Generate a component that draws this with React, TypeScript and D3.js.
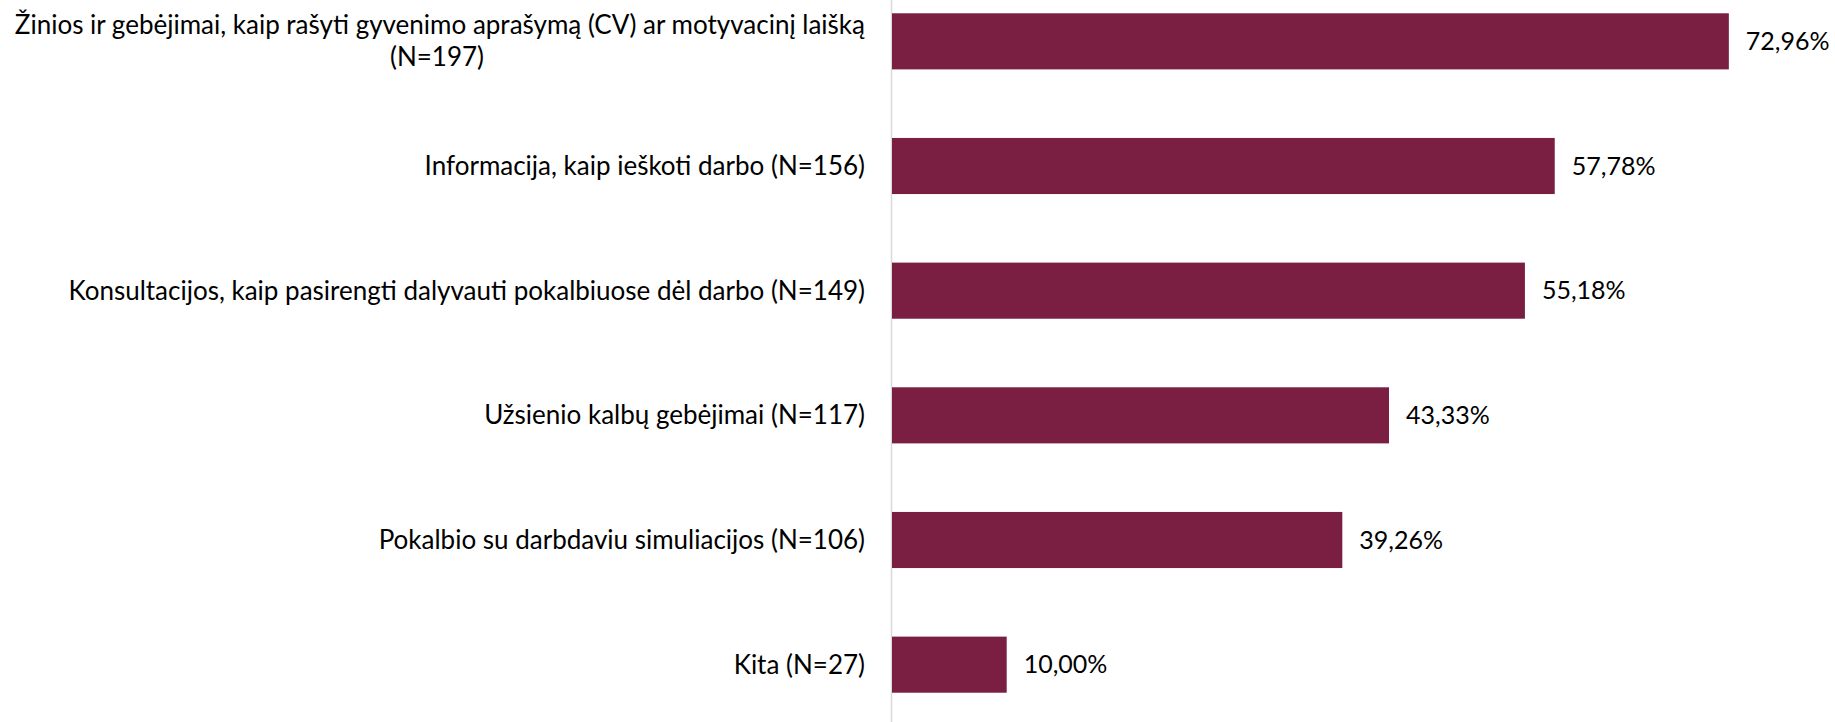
import React, { useEffect } from 'react';
import * as d3 from 'd3';

// category labels (first one wraps onto two lines, as in the source)
const categories = [
  'Žinios ir gebėjimai, kaip rašyti gyvenimo aprašymą (CV) ar motyvacinį laišką\n(N=197)',
  'Informacija, kaip ieškoti darbo (N=156)',
  'Konsultacijos, kaip pasirengti dalyvauti pokalbiuose dėl darbo (N=149)',
  'Užsienio kalbų gebėjimai (N=117)',
  'Pokalbio su darbdaviu simuliacijos (N=106)',
  'Kita (N=27)',
];
const shares = [72.96, 57.78, 55.18, 43.33, 39.26, 10.0];

const W = 1835;
const H = 722;
const BAR_COLOR = '#7a1f42';
const FONT = 'Lato, "Open Sans", sans-serif';

const fmt = (v: number) => d3.format('.2f')(v).replace('.', ',') + '%';

export default function App() {
  useEffect(() => {
    document.body.style.margin = '0';
  }, []);

  const axisX = 892;
  const x = d3.scaleLinear().domain([0, 80]).range([axisX, axisX + 80 * 11.47]);
  const y = d3.scaleBand<string>()
    .domain(categories)
    .range([-21, 727])
    .paddingInner(0.55)
    .paddingOuter(0.275);

  const labelX = 865;
  const labelSize = 26;
  const valueSize = 25;
  const lineH = 32;

  return (
    <svg width={W} height={H} viewBox={`0 0 ${W} ${H}`} style={{ display: 'block', background: '#fff' }}>
      {/* category axis line */}
      <line x1={axisX - 0.5} x2={axisX - 0.5} y1={0} y2={H} stroke="#d9d9d9" strokeWidth={1.5} />

      {categories.map((c, i) => {
        const v = shares[i];
        const yc = (y(c) ?? 0) + y.bandwidth() / 2;
        const lines = c.split('\n');
        const first = yc - ((lines.length - 1) * lineH) / 2;
        return (
          <g key={c}>
            <rect x={x(0)} y={y(c)} width={x(v) - x(0)} height={y.bandwidth()} fill={BAR_COLOR} />
            <text
              x={x(v) + 17}
              y={yc}
              dy="0.35em"
              fontFamily={FONT}
              fontSize={valueSize}
              fill="#000"
            >
              {fmt(v)}
            </text>
            {lines.map((ln, j) => (
              <text
                key={j}
                x={lines.length > 1 && j > 0 ? labelX - 428 : labelX}
                y={first + j * lineH}
                dy="0.35em"
                textAnchor={lines.length > 1 && j > 0 ? 'middle' : 'end'}
                fontFamily={FONT}
                fontSize={labelSize}
                fill="#000"
              >
                {ln}
              </text>
            ))}
          </g>
        );
      })}
    </svg>
  );
}
